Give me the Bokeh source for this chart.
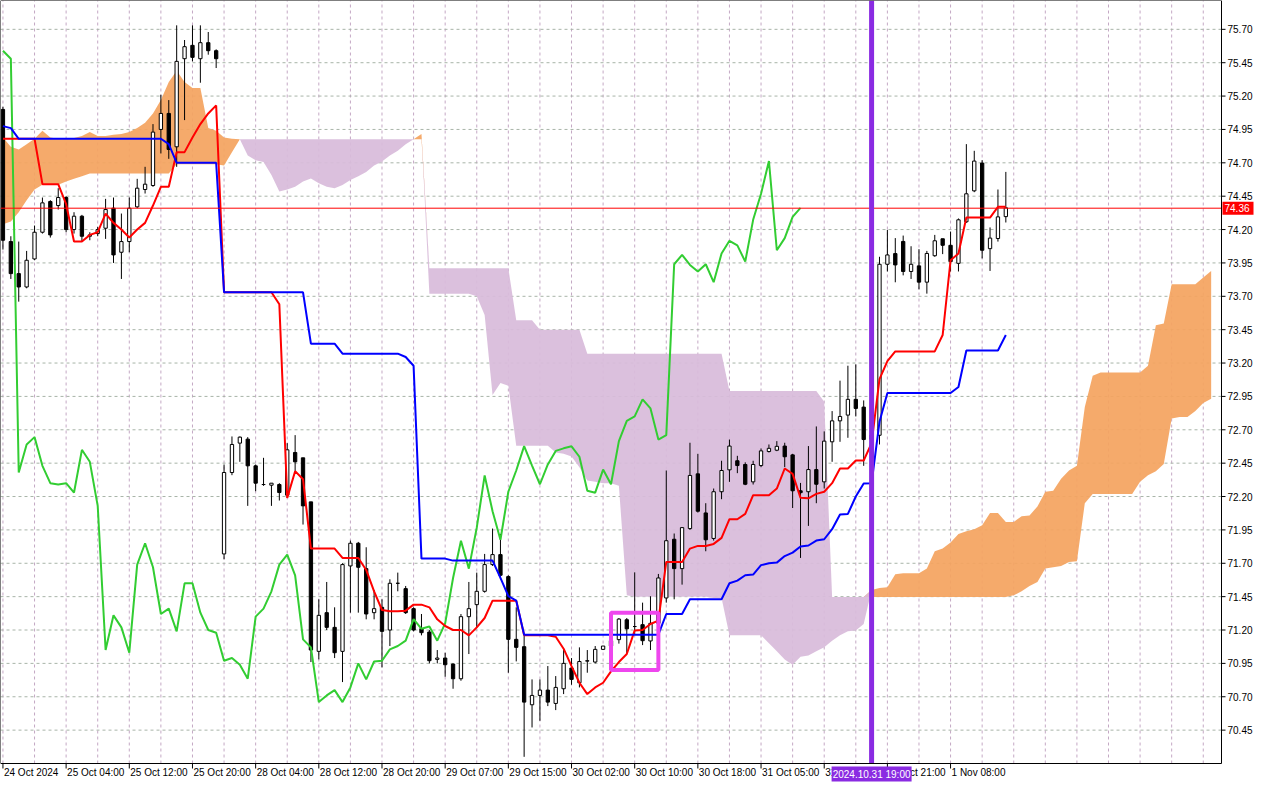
from bokeh.plotting import figure
from bokeh.models import Range1d
from bokeh.core.properties import value
from bokeh.embed import file_html
from bokeh.resources import INLINE

# ---------------- data (H1 bars, index 0 = first visible bar) ----------------
opens = [75.10, 74.11, 73.87, 73.77, 73.98, 74.18, 74.41, 74.38, 74.44, 74.20,
         74.30, 74.15, 74.17, 74.21, 74.36, 74.03, 74.11, 74.37, 74.50, 74.53,
         74.95, 75.07, 74.82, 75.48, 75.58, 75.48, 75.60, 75.54, 71.77, 72.38,
         72.60, 72.63, 72.43, 72.29, 72.285, 72.29, 72.21, 72.53, 72.49, 72.16,
         71.04, 71.33, 71.22, 71.04, 71.68, 71.85, 71.66, 71.33, 71.37, 71.20,
         71.55, 71.51, 71.36, 71.21, 71.185, 70.98, 70.99, 70.945, 70.835, 71.30,
         71.39, 71.49, 71.69, 71.765, 71.60, 71.13, 71.075, 70.64, 70.71, 70.75,
         70.65, 70.76, 70.915, 70.805, 70.967, 70.96, 71.055, 71.08, 71.128, 71.277,
         71.226, 71.24, 71.118, 71.25, 71.44, 71.88, 71.66, 71.96, 72.37, 72.077,
         71.886, 72.236, 72.40, 72.468, 72.44, 72.31, 72.432, 72.537, 72.547, 72.578,
         72.512, 72.243, 72.236, 72.402, 72.31, 72.61, 72.767, 72.81, 72.928, 72.87,
         72.63, 72.659, 73.94, 74.02, 74.111, 73.886, 73.928, 73.806, 74.004, 74.131,
         74.082, 73.947, 74.258, 74.49, 74.698, 74.057, 74.133, 74.297]
highs = [75.12, 74.15, 74.11, 74.04, 74.23, 74.44, 74.42, 74.51, 74.45, 74.33,
         74.31, 74.18, 74.22, 74.43, 74.44, 74.32, 74.44, 74.58, 74.67, 74.99,
         75.21, 75.17, 75.73, 75.62, 75.73, 75.73, 75.68, 75.55, 72.44, 72.65,
         72.65, 72.645, 72.44, 72.49, 72.30, 72.30, 72.60, 72.66, 72.49, 72.16,
         71.43, 71.56, 71.37, 71.70, 71.87, 71.86, 71.82, 71.50, 71.43, 71.58,
         71.63, 71.53, 71.37, 71.32, 71.20, 71.05, 71.03, 70.95, 71.32, 71.56,
         71.63, 71.77, 71.96, 71.92, 71.61, 71.37, 71.16, 70.83, 70.83, 70.93,
         70.855, 71.05, 70.99, 71.07, 71.05, 71.08, 71.08, 71.15, 71.29, 71.29,
         71.632, 71.405, 71.453, 71.62, 72.395, 71.923, 71.97, 72.603, 72.52, 72.15,
         72.26, 72.468, 72.627, 72.505, 72.456, 72.468, 72.56, 72.59, 72.615, 72.603,
         72.52, 72.302, 72.578, 72.725, 72.688, 72.84, 73.068, 73.18, 73.19, 72.92,
         72.80, 73.996, 74.197, 74.136, 74.155, 74.075, 74.053, 74.04, 74.16, 74.131,
         74.185, 74.283, 74.84, 74.79, 74.72, 74.216, 74.50, 74.632]
lows = [74.05, 73.83, 73.66, 73.76, 73.97, 74.17, 74.14, 74.35, 74.18, 74.17,
        74.11, 74.12, 74.15, 74.13, 73.95, 73.83, 74.03, 74.36, 74.47, 74.52,
        74.77, 74.73, 74.67, 75.02, 75.46, 75.30, 75.51, 75.41, 71.73, 72.36,
        72.46, 72.13, 72.24, 72.28, 72.13, 72.17, 72.19, 72.39, 71.99, 70.96,
        70.98, 71.20, 70.99, 70.81, 71.33, 71.33, 71.28, 71.28, 70.92, 71.08,
        71.49, 71.32, 71.19, 71.16, 70.95, 70.95, 70.85, 70.76, 70.82, 71.02,
        71.22, 71.48, 71.68, 71.58, 70.88, 70.965, 70.25, 70.47, 70.52, 70.63,
        70.60, 70.72, 70.79, 70.77, 70.88, 70.95, 71.05, 71.04, 71.098, 71.025,
        71.17, 71.087, 71.05, 71.24, 71.405, 71.43, 71.54, 71.95, 72.08, 71.79,
        71.87, 72.18, 72.31, 72.375, 72.285, 72.29, 72.42, 72.53, 72.54, 72.42,
        72.114, 71.74, 71.98, 72.15, 72.26, 72.46, 72.61, 72.64, 72.80, 72.43,
        72.45, 72.59, 73.886, 73.805, 73.857, 73.83, 73.752, 73.72, 73.996, 74.016,
        73.886, 73.886, 74.25, 74.48, 73.984, 73.89, 74.11, 74.253]
closes = [74.12, 73.87, 73.77, 73.97, 74.18, 74.40, 74.16, 74.44, 74.20, 74.30,
          74.15, 74.16, 74.20, 74.35, 74.01, 74.11, 74.36, 74.51, 74.54, 74.93,
          75.07, 74.80, 75.46, 75.57, 75.49, 75.60, 75.54, 75.48, 72.38, 72.59,
          72.645, 72.43, 72.30, 72.29, 72.30, 72.23, 72.55, 72.46, 72.13, 71.05,
          71.31, 71.22, 71.03, 71.69, 71.85, 71.67, 71.32, 71.36, 71.19, 71.55,
          71.55, 71.33, 71.20, 71.18, 70.97, 70.99, 70.94, 70.835, 71.30, 71.36,
          71.49, 71.69, 71.765, 71.61, 71.13, 71.07, 70.66, 70.71, 70.75, 70.66,
          70.77, 70.95, 70.83, 70.964, 70.97, 71.055, 71.08, 71.12, 71.282, 71.209,
          71.226, 71.12, 71.25, 71.59, 71.869, 71.66, 71.967, 72.358, 72.09, 71.876,
          72.236, 72.395, 72.578, 72.432, 72.292, 72.44, 72.542, 72.561, 72.576, 72.498,
          72.243, 72.229, 72.402, 72.292, 72.615, 72.767, 72.80, 72.928, 72.86, 72.627,
          72.66, 73.94, 74.01, 73.935, 73.886, 73.94, 73.806, 74.021, 74.116, 74.082,
          73.96, 74.273, 74.468, 74.713, 74.045, 74.136, 74.295, 74.363]

tenkan = [74.88, 74.88, 74.88, 74.88, 74.88, 74.54, 74.54, 74.54, 74.39, 74.11,
          74.11, 74.16, 74.18, 74.32, 74.25, 74.20, 74.14, 74.20, 74.25, 74.38,
          74.52, 74.52, 74.78, 74.78, 74.89, 74.99, 75.07, 75.13, 73.73, 73.73,
          73.73, 73.73, 73.73, 73.73, 73.73, 73.64, 72.19, 72.39, 72.33, 71.81,
          71.81, 71.81, 71.81, 71.74, 71.74, 71.74, 71.65, 71.49, 71.35, 71.34,
          71.34, 71.345, 71.39, 71.39, 71.37, 71.28, 71.23, 71.20, 71.20, 71.16,
          71.22, 71.29, 71.42, 71.42, 71.42, 71.42, 71.16, 71.16, 71.16, 71.16,
          71.15, 71.06, 70.93, 70.805, 70.72, 70.77, 70.805, 70.89, 70.96, 71.02,
          71.197, 71.20, 71.245, 71.27, 71.71, 71.71, 71.71, 71.81, 71.83, 71.83,
          71.845, 71.89, 72.03, 72.03, 72.07, 72.21, 72.21, 72.21, 72.26, 72.41,
          72.37, 72.19, 72.187, 72.22, 72.236, 72.30, 72.41, 72.41, 72.47, 72.47,
          72.60, 73.08, 73.214, 73.287, 73.287, 73.287, 73.287, 73.287, 73.287, 73.41,
          73.97, 74.02, 74.29, 74.29, 74.29, 74.29, 74.37, 74.37]
kijun = [74.975, 74.96, 74.88, 74.88, 74.88, 74.88, 74.88, 74.88, 74.88, 74.88,
         74.88, 74.88, 74.88, 74.88, 74.88, 74.88, 74.88, 74.88, 74.88, 74.88,
         74.88, 74.84, 74.70, 74.70, 74.70, 74.70, 74.70, 74.70, 73.73, 73.73,
         73.73, 73.73, 73.73, 73.73, 73.73, 73.73, 73.73, 73.73, 73.73, 73.345,
         73.345, 73.345, 73.345, 73.27, 73.27, 73.27, 73.27, 73.27, 73.27, 73.27,
         73.27, 73.245, 73.18, 71.735, 71.735, 71.735, 71.735, 71.72, 71.72, 71.72,
         71.72, 71.72, 71.72, 71.59, 71.454, 71.42, 71.165, 71.165, 71.165, 71.165,
         71.165, 71.165, 71.165, 71.165, 71.165, 71.165, 71.165, 71.165, 71.165, 71.165,
         71.165, 71.165, 71.165, 71.165, 71.32, 71.32, 71.32, 71.43, 71.43, 71.43,
         71.43, 71.43, 71.55, 71.57, 71.61, 71.615, 71.686, 71.70, 71.705, 71.754,
         71.78, 71.826, 71.833, 71.87, 71.88, 71.955, 72.065, 72.07, 72.20, 72.297,
         72.30, 72.76, 72.976, 72.976, 72.976, 72.976, 72.976, 72.976, 72.976, 72.976,
         72.976, 73.02, 73.294, 73.294, 73.294, 73.294, 73.294, 73.41]
# Senkou spans, already shifted 26 bars forward (index 0..153)
span_a = [74.89, 74.82, 74.80, 74.84, 74.88, 74.94, 74.89, 74.88, 74.88, 74.885,
          74.90, 74.93, 74.90, 74.90, 74.91, 74.915, 74.93, 74.96, 75.00, 75.07,
          75.17, 75.305, 75.39, 75.305, 75.26, 75.26, 74.96, 74.94, 74.89, 74.88,
          74.877, 74.755, 74.72, 74.706, 74.608, 74.485, 74.50, 74.52, 74.56, 74.583,
          74.547, 74.52, 74.51, 74.534, 74.571, 74.60, 74.632, 74.68, 74.71, 74.755,
          74.79, 74.84, 74.877, 74.915, 73.72, 73.72, 73.72, 73.72, 73.72, 73.72,
          73.70, 73.56, 72.96, 73.05, 73.03, 72.58, 72.58, 72.58, 72.58, 72.58,
          72.53, 72.52, 72.50, 72.42, 72.32, 72.31, 72.30, 72.30, 72.28, 71.46,
          71.45, 71.45, 71.45, 71.45, 71.45, 71.45, 71.45, 71.45, 71.45, 71.45,
          71.44, 71.44, 71.16, 71.16, 71.16, 71.16, 71.16, 71.10, 71.04, 70.98,
          70.94, 71.00, 71.01, 71.04, 71.07, 71.12, 71.16, 71.19, 71.197, 71.245,
          71.50, 71.515, 71.52, 71.617, 71.625, 71.625, 71.625, 71.66, 71.79, 71.81,
          71.856, 71.92, 71.94, 71.955, 71.984, 72.077, 72.077, 72.009, 72.009, 72.053,
          72.058, 72.126, 72.236, 72.243, 72.334, 72.395, 72.43, 72.87, 73.104, 73.129,
          73.129, 73.129, 73.129, 73.129, 73.129, 73.18, 73.483, 73.496, 73.79, 73.79,
          73.79, 73.79, 73.84, 73.89]
span_b = [74.24, 74.26, 74.33, 74.42, 74.50, 74.535, 74.535, 74.535, 74.56, 74.58,
          74.60, 74.62, 74.62, 74.62, 74.62, 74.62, 74.62, 74.62, 74.62, 74.62,
          74.62, 74.62, 74.69, 74.69, 74.69, 74.69, 74.69, 74.69, 74.68, 74.78,
          74.877, 74.877, 74.877, 74.877, 74.877, 74.877, 74.877, 74.877, 74.877, 74.877,
          74.877, 74.877, 74.877, 74.877, 74.877, 74.877, 74.877, 74.877, 74.877, 74.877,
          74.877, 74.877, 74.877, 74.877, 73.91, 73.91, 73.91, 73.91, 73.91, 73.91,
          73.91, 73.91, 73.91, 73.91, 73.91, 73.52, 73.52, 73.52, 73.45, 73.45,
          73.45, 73.45, 73.45, 73.45, 73.27, 73.27, 73.27, 73.27, 73.27, 73.27,
          73.27, 73.27, 73.27, 73.27, 73.27, 73.27, 73.27, 73.27, 73.27, 73.27,
          73.27, 73.27, 72.99, 72.99, 72.99, 72.99, 72.99, 72.99, 72.99, 72.99,
          72.99, 72.99, 72.99, 72.99, 72.91, 71.448, 71.448, 71.448, 71.448, 71.448,
          71.448, 71.448, 71.448, 71.448, 71.448, 71.448, 71.448, 71.448, 71.448, 71.448,
          71.448, 71.448, 71.448, 71.448, 71.448, 71.448, 71.448, 71.448, 71.46, 71.49,
          71.53, 71.56, 71.66, 71.67, 71.68, 71.71, 71.715, 72.15, 72.219, 72.219,
          72.219, 72.219, 72.219, 72.219, 72.31, 72.36, 72.39, 72.444, 72.785, 72.795,
          72.795, 72.84, 72.90, 72.933]

time_tick_bars = [0, 8, 16, 24, 32, 40, 48, 56, 64, 72, 80, 88, 96, 104, 112, 120]
time_tick_labels = ["24 Oct 2024", "25 Oct 04:00", "25 Oct 12:00", "25 Oct 20:00",
                    "28 Oct 04:00", "28 Oct 12:00", "28 Oct 20:00", "29 Oct 07:00",
                    "29 Oct 15:00", "30 Oct 02:00", "30 Oct 10:00", "30 Oct 18:00",
                    "31 Oct 05:00", "31 Oct 13:00", "31 Oct 21:00", "1 Nov 08:00"]
grid_bars = [0, 4, 8, 12, 16, 20, 24, 28, 32, 36, 40, 44, 48, 52, 56, 60, 64, 68, 72, 76,
             80, 84, 88, 92, 96, 100, 104, 108, 112, 116, 120, 124, 128, 132, 136, 140,
             144, 148, 152]
price_ticks = [70.45, 70.70, 70.95, 71.20, 71.45, 71.70, 71.95, 72.20, 72.45, 72.70,
               72.95, 73.20, 73.45, 73.70, 73.95, 74.20, 74.45, 74.70, 74.95, 75.20,
               75.45, 75.70]
price_tick_labels = ["70.45", "70.70", "70.95", "71.20", "71.45", "71.70", "71.95", "72.20",
                     "72.45", "72.70", "72.95", "73.20", "73.45", "73.70", "73.95", "74.20",
                     "74.45", "74.70", "74.95", "75.20", "75.45", "75.70"]
last_price = 74.36
last_price_text = "74.36"
marker_bar = 110
marker_text = "2024.10.31 19:00"
box_bars = [77, 83]
box_prices = [70.90, 71.33]

# ---------------- layout (chart frame inside a full-canvas plot) ----------------
W, H = 1264, 784
FRAME_W, FRAME_H = 1221, 763          # price/time pane, axis strips to right/below
X0, X1 = -0.31, 154.31                 # visible bar range of the pane
Y0, Y1 = 70.20, 75.916                 # visible price range of the pane
XPX = (X1 - X0) / FRAME_W              # bars per pixel
YPX = (Y1 - Y0) / FRAME_H              # price per pixel
FONT = "Liberation Sans"
FS = "10px"

p = figure(width=W, height=H,
           x_range=Range1d(X0, X0 + W * XPX), y_range=Range1d(Y1 - H * YPX, Y1),
           output_backend="svg", toolbar_location=None,
           x_axis_location=None, y_axis_location=None, min_border=0)
p.outline_line_color = None
p.background_fill_color = "white"
p.border_fill_color = "white"
p.grid.visible = False

# grid
p.segment(x0=grid_bars, y0=[Y0] * len(grid_bars), x1=grid_bars, y1=[Y1] * len(grid_bars),
          line_color="#C4A8C4", line_dash="3 3", line_width=1)
p.segment(x0=[X0] * len(price_ticks), y0=price_ticks, x1=[X1] * len(price_ticks), y1=price_ticks,
          line_color="#A8B4A8", line_dash="3 3", line_width=1)

# cloud
cloud_x = list(range(len(span_a)))
upper = [max(a, b) for a, b in zip(span_a, span_b)]
p.varea(x=cloud_x, y1=span_b, y2=upper, fill_color="#F4A460", fill_alpha=0.93)
p.varea(x=cloud_x, y1=span_a, y2=upper, fill_color="#D8BBDA", fill_alpha=0.93)

# candles
bars = list(range(len(closes)))
body_top = [max(o, c) for o, c in zip(opens, closes)]
body_bot = [min(o, c) for o, c in zip(opens, closes)]
body_col = ["white" if c >= o else "black" for o, c in zip(opens, closes)]
p.segment(x0=bars, y0=lows, x1=bars, y1=highs, line_color="black", line_width=1)
p.vbar(x=bars, width=0.42, top=body_top, bottom=body_bot,
       fill_color=body_col, line_color="black", line_width=1)

# Ichimoku lines
chikou_x = bars[:len(closes) - 26]
chikou_y = closes[26:]
p.line(x=chikou_x, y=chikou_y, line_color="#32CD32", line_width=2)
p.line(x=bars, y=tenkan, line_color="#FF0000", line_width=2)
p.line(x=bars, y=kijun, line_color="#0000FF", line_width=2)

# last price line
p.segment(x0=[X0], y0=[last_price], x1=[X1], y1=[last_price], line_color="#FF0000", line_width=1)

# vertical marker
p.segment(x0=[marker_bar], y0=[Y0], x1=[marker_bar], y1=[Y1], line_color="#8A2BE2", line_width=5)

# magenta box
p.quad(left=[box_bars[0]], right=[box_bars[1]], bottom=[box_prices[0]], top=[box_prices[1]],
       fill_alpha=0, line_color="#EE46EE", line_width=4)

# pane border / axis lines
p.quad(left=[X0], right=[X1], bottom=[Y0], top=[Y1], fill_alpha=0, line_color="black", line_width=1)

# bottom time axis
p.segment(x0=time_tick_bars, y0=[Y0] * len(time_tick_bars), x1=time_tick_bars,
          y1=[Y0 - 5 * YPX] * len(time_tick_bars), line_color="black", line_width=1)
p.text(x=[b + 1 * XPX for b in time_tick_bars], y=[Y0 - 3 * YPX] * len(time_tick_bars),
       text=time_tick_labels, text_align="left", text_baseline="top",
       text_font=value(FONT), text_font_size=value(FS), text_color="black")

# right price axis
p.segment(x0=[X1] * len(price_ticks), y0=price_ticks, x1=[X1 + 4 * XPX] * len(price_ticks),
          y1=price_ticks, line_color="black", line_width=1)
p.text(x=[X1 + 6 * XPX] * len(price_ticks), y=price_ticks, text=price_tick_labels,
       text_align="left", text_baseline="middle",
       text_font=value(FONT), text_font_size=value(FS), text_color="black")

# last price tag
p.rect(x=[X1 + 16.5 * XPX], y=[last_price], width=31 * XPX, height=13 * YPX,
       fill_color="#FF0000", line_color=None)
p.text(x=[X1 + 3 * XPX], y=[last_price], text=[last_price_text], text_align="left",
       text_baseline="middle", text_font=value(FONT), text_font_size=value(FS),
       text_color="white")

# marker time tag
p.rect(x=[marker_bar], y=[Y0 - 10.5 * YPX], width=80 * XPX, height=15 * YPX,
       fill_color="#8A2BE2", line_color=None)
p.text(x=[marker_bar], y=[Y0 - 10.5 * YPX], text=[marker_text], text_align="center",
       text_baseline="middle", text_font=value(FONT), text_font_size=value(FS),
       text_color="white")

open("out.html", "w").write(file_html(p, INLINE))
